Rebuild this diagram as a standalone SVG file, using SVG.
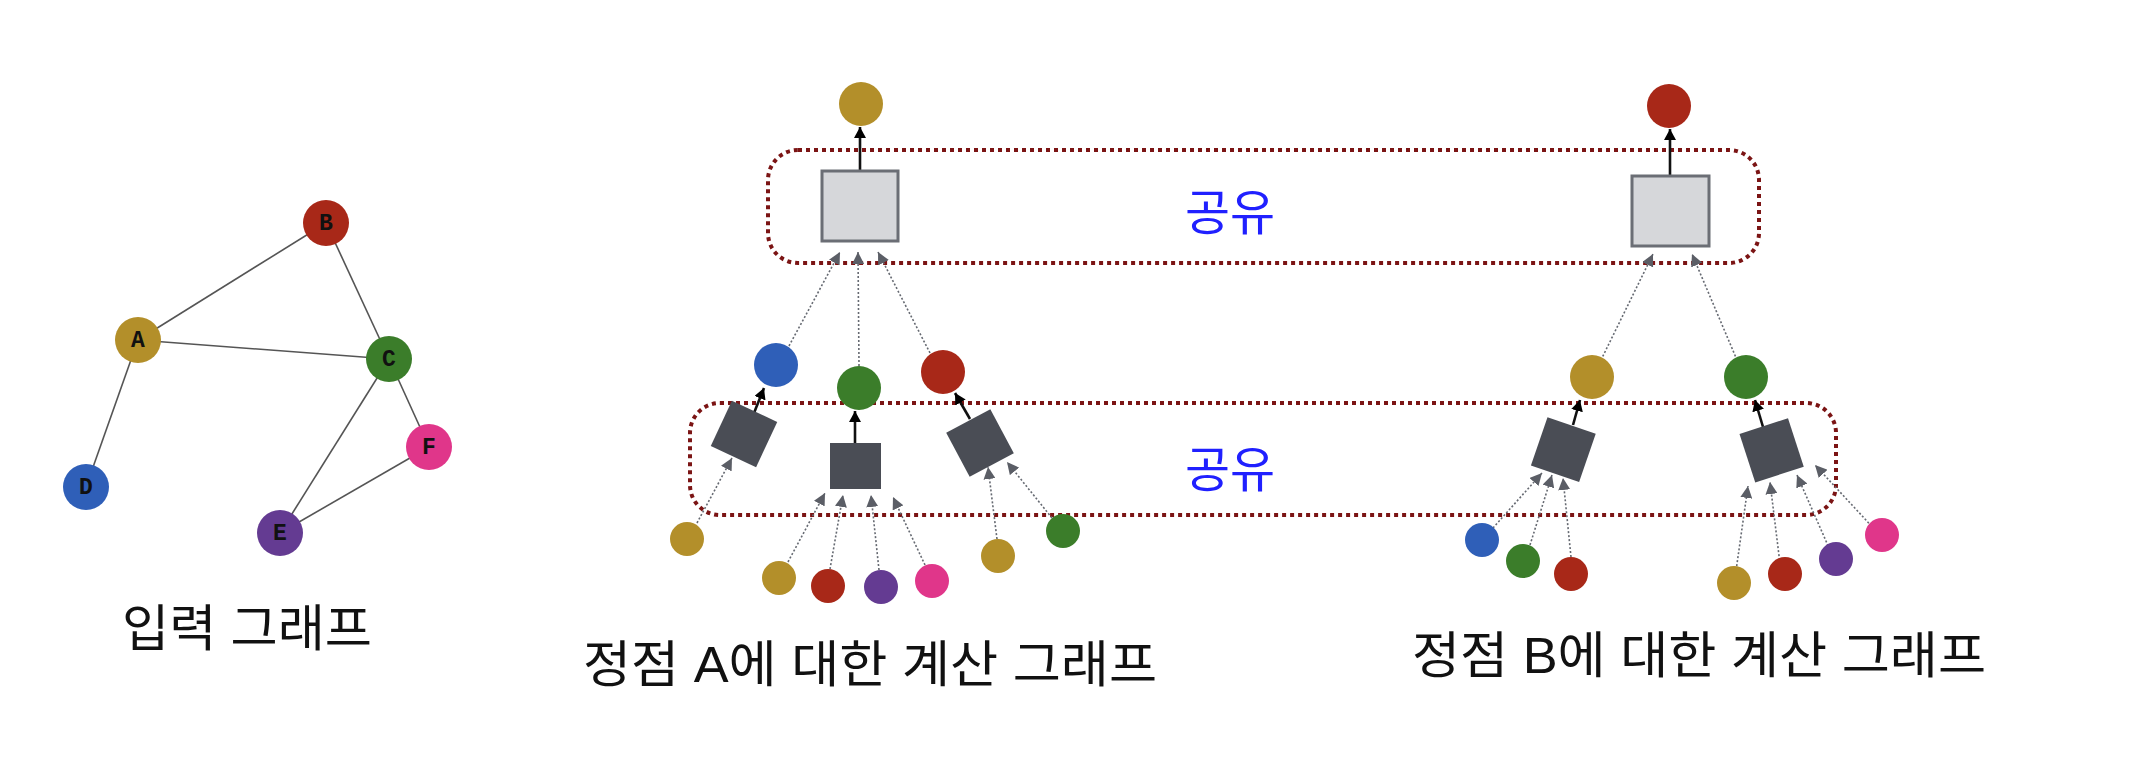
<svg xmlns="http://www.w3.org/2000/svg" width="2148" height="774" viewBox="0 0 2148 774">
<defs>
<style>
.gold{fill:#b38f2a}.red{fill:#a82818}.green{fill:#3b7d2a}.blue{fill:#2f5fb8}.purple{fill:#643b92}.pink{fill:#e0368a}
.lbl{font-family:"Liberation Mono",monospace;font-weight:bold;font-size:23px;fill:#111;text-anchor:middle}
.edge{stroke:#555;stroke-width:1.6;fill:none}
.cap{font-family:"Liberation Sans","Noto Sans CJK KR",sans-serif;font-size:50px;fill:#111;text-anchor:middle}
.share{font-family:"Noto Sans CJK KR",sans-serif;font-size:49px;fill:#2020ff;text-anchor:middle}
.grp{fill:none;stroke:#7b1414;stroke-width:4;stroke-dasharray:4 4}
.light{fill:#d6d7da;stroke:#6b6e75;stroke-width:3}
.dark{fill:#4a4d55}
.dot{stroke:#666a72;stroke-width:1.6;stroke-dasharray:2 2;fill:none;marker-end:url(#ga)}
.solid{stroke:#111;stroke-width:2.6;fill:none;marker-end:url(#ba)}
</style>
<marker id="ga" markerUnits="userSpaceOnUse" markerWidth="14" markerHeight="12" refX="12" refY="6" orient="auto"><path d="M0,0 L12,6 L0,12 Z" fill="#5b5e66"/></marker>
<marker id="ba" markerUnits="userSpaceOnUse" markerWidth="12" markerHeight="12" refX="11" refY="6" orient="auto"><path d="M0,0 L11,6 L0,12 Z" fill="#000"/></marker>
</defs>
<rect width="2148" height="774" fill="#fff"/>

<g id="input-graph">
<g id="input-edges">
<line class="edge" x1="138" y1="340" x2="326" y2="223"/>
<line class="edge" x1="138" y1="340" x2="389" y2="359"/>
<line class="edge" x1="138" y1="340" x2="86" y2="487"/>
<line class="edge" x1="326" y1="223" x2="389" y2="359"/>
<line class="edge" x1="389" y1="359" x2="280" y2="533"/>
<line class="edge" x1="389" y1="359" x2="429" y2="447"/>
<line class="edge" x1="280" y1="533" x2="429" y2="447"/>
</g>
<g id="nA"><circle class="gold" cx="138" cy="340" r="23"/><text class="lbl" x="138" y="347">A</text></g>
<g id="nB"><circle class="red" cx="326" cy="223" r="23"/><text class="lbl" x="326" y="230">B</text></g>
<g id="nC"><circle class="green" cx="389" cy="359" r="23"/><text class="lbl" x="389" y="366">C</text></g>
<g id="nD"><circle class="blue" cx="86" cy="487" r="23"/><text class="lbl" x="86" y="494">D</text></g>
<g id="nE"><circle class="purple" cx="280" cy="533" r="23"/><text class="lbl" x="280" y="540">E</text></g>
<g id="nF"><circle class="pink" cx="429" cy="447" r="23"/><text class="lbl" x="429" y="454">F</text></g>
<text id="cap-input" class="cap" x="247" y="646" textLength="250" lengthAdjust="spacingAndGlyphs">입력 그래프</text>
</g>

<g id="shared-groups">
<rect id="share-top" class="grp" x="768" y="150" width="991" height="113" rx="30"/>
<rect id="share-bottom" class="grp" x="690" y="403" width="1146" height="112" rx="30"/>
<text class="share" x="1230" y="230">공유</text>
<text class="share" x="1230" y="487">공유</text>
</g>

<g id="connectors">
<line class="solid" x1="860" y1="171" x2="860" y2="127"/>
<line class="dot" x1="789" y1="346" x2="840" y2="252"/>
<line class="dot" x1="859" y1="366" x2="858" y2="252"/>
<line class="dot" x1="930" y1="353" x2="878" y2="252"/>
<line class="solid" x1="754" y1="413" x2="764" y2="388"/>
<line class="solid" x1="855" y1="443" x2="855" y2="411"/>
<line class="solid" x1="970" y1="419" x2="955" y2="393"/>
<line class="dot" x1="697" y1="523" x2="732" y2="458"/>
<line class="dot" x1="788" y1="562" x2="825" y2="493"/>
<line class="dot" x1="830" y1="569" x2="843" y2="495"/>
<line class="dot" x1="879" y1="570" x2="871" y2="495"/>
<line class="dot" x1="925" y1="565" x2="893" y2="497"/>
<line class="dot" x1="997" y1="539" x2="988" y2="467"/>
<line class="dot" x1="1052" y1="518" x2="1007" y2="462"/>

<line class="solid" x1="1670" y1="176" x2="1670" y2="129"/>
<line class="dot" x1="1601" y1="360" x2="1653" y2="254"/>
<line class="dot" x1="1737" y1="360" x2="1692" y2="254"/>
<line class="solid" x1="1573" y1="425" x2="1580" y2="400"/>
<line class="solid" x1="1763" y1="427" x2="1755" y2="400"/>
<line class="dot" x1="1493" y1="528" x2="1542" y2="473"/>
<line class="dot" x1="1530" y1="545" x2="1552" y2="475"/>
<line class="dot" x1="1571" y1="557" x2="1563" y2="478"/>
<line class="dot" x1="1735" y1="578" x2="1748" y2="486"/>
<line class="dot" x1="1781" y1="572" x2="1770" y2="482"/>
<line class="dot" x1="1833" y1="557" x2="1797" y2="475"/>
<line class="dot" x1="1877" y1="532" x2="1815" y2="465"/>
</g>

<g id="compA">
<g id="a-root"><circle class="gold" cx="861" cy="104" r="22"/></g>
<g id="a-agg"><rect class="light" x="822" y="171" width="76" height="70"/></g>
<g id="a-l1-blue"><circle class="blue" cx="776" cy="365" r="22"/></g>
<g id="a-l1-green"><circle class="green" cx="859" cy="388" r="22"/></g>
<g id="a-l1-red"><circle class="red" cx="943" cy="372" r="22"/></g>
<g id="a-sq1"><rect class="dark" x="-25" y="-25" width="50" height="50" transform="translate(744,434) rotate(25)"/></g>
<g id="a-sq2"><rect class="dark" x="830" y="443" width="51" height="46"/></g>
<g id="a-sq3"><rect class="dark" x="-25" y="-25" width="50" height="50" transform="translate(980,443) rotate(-28)"/></g>
<g id="a-b1"><circle class="gold" cx="687" cy="539" r="17"/></g>
<g id="a-b2"><circle class="gold" cx="779" cy="578" r="17"/></g>
<g id="a-b3"><circle class="red" cx="828" cy="586" r="17"/></g>
<g id="a-b4"><circle class="purple" cx="881" cy="587" r="17"/></g>
<g id="a-b5"><circle class="pink" cx="932" cy="581" r="17"/></g>
<g id="a-b6"><circle class="gold" cx="998" cy="556" r="17"/></g>
<g id="a-b7"><circle class="green" cx="1063" cy="531" r="17"/></g>
<text id="cap-a" class="cap" x="870" y="682" textLength="574" lengthAdjust="spacingAndGlyphs">정점 A에 대한 계산 그래프</text>
</g>

<g id="compB">
<g id="b-root"><circle class="red" cx="1669" cy="106" r="22"/></g>
<g id="b-agg"><rect class="light" x="1632" y="176" width="77" height="70"/></g>
<g id="b-l1-gold"><circle class="gold" cx="1592" cy="377" r="22"/></g>
<g id="b-l1-green"><circle class="green" cx="1746" cy="377" r="22"/></g>
<g id="b-sq1"><rect class="dark" x="-25" y="-25" width="51" height="51" transform="translate(1563,449) rotate(19)"/></g>
<g id="b-sq2"><rect class="dark" x="-25" y="-25" width="51" height="51" transform="translate(1771,450) rotate(-18)"/></g>
<g id="b-b1"><circle class="blue" cx="1482" cy="540" r="17"/></g>
<g id="b-b2"><circle class="green" cx="1523" cy="561" r="17"/></g>
<g id="b-b3"><circle class="red" cx="1571" cy="574" r="17"/></g>
<g id="b-b4"><circle class="gold" cx="1734" cy="583" r="17"/></g>
<g id="b-b5"><circle class="red" cx="1785" cy="574" r="17"/></g>
<g id="b-b6"><circle class="purple" cx="1836" cy="559" r="17"/></g>
<g id="b-b7"><circle class="pink" cx="1882" cy="535" r="17"/></g>
<text id="cap-b" class="cap" x="1699" y="673" textLength="574" lengthAdjust="spacingAndGlyphs">정점 B에 대한 계산 그래프</text>
</g>
</svg>
